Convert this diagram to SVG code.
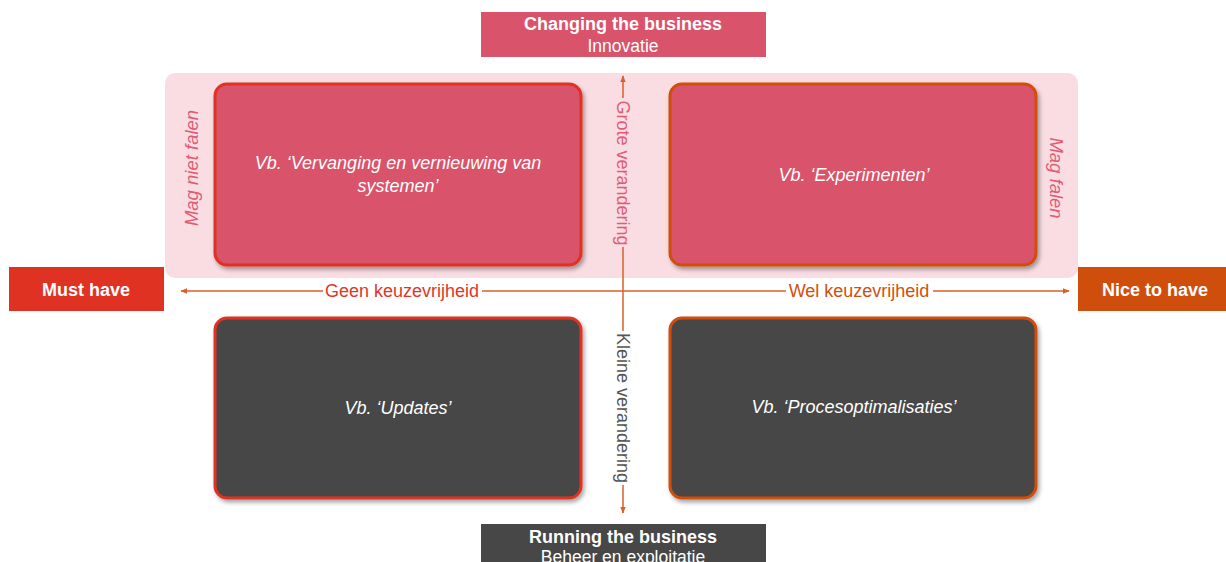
<svg xmlns="http://www.w3.org/2000/svg" width="1226" height="562" viewBox="0 0 1226 562">
<defs>
<style>
text{font-family:"Liberation Sans",Arial,sans-serif}
.hdr{font-size:18px;font-weight:bold;fill:#fff;text-anchor:middle}
.sub{font-size:17.5px;fill:#fff;text-anchor:middle}
.box{font-size:18px;font-style:italic;fill:#fff;text-anchor:middle}
.side{font-size:18.5px;font-style:italic;fill:#e05c76;text-anchor:middle}
.ax{font-size:18px;text-anchor:middle}
.axl{stroke:#d9602a;stroke-width:1.5;fill:none}
.red{fill:#d9536b;stroke:#e03222;stroke-width:3}
.redo{fill:#d9536b;stroke:#d04e0b;stroke-width:3}
.dark{fill:#474747;stroke:#e03222;stroke-width:3}
.darko{fill:#474747;stroke:#d04e0b;stroke-width:3}
</style>
<filter id="sh" x="-5%" y="-5%" width="115%" height="115%">
<feDropShadow dx="2" dy="3" stdDeviation="2" flood-color="#000" flood-opacity="0.35"/>
</filter>
<marker id="ah" viewBox="0 0 10 10" refX="9" refY="5" markerWidth="7" markerHeight="7" orient="auto-start-reverse" markerUnits="userSpaceOnUse">
<path d="M0,1 L10,5 L0,9 z" fill="#d9602a"/>
</marker>
</defs>
<rect x="165" y="73" width="913" height="205" rx="10" fill="#f9dde2"/>
<g id="top-label">
<rect x="481" y="12" width="285" height="45" fill="#d9536b"/>
<text class="hdr" x="623" y="30">Changing the business</text>
<text class="sub" x="623" y="52">Innovatie</text>
</g>
<g id="bottom-label">
<rect x="481" y="524" width="285" height="45" fill="#474747"/>
<text class="hdr" x="623" y="543">Running the business</text>
<text class="sub" x="623" y="563">Beheer en exploitatie</text>
</g>
<g id="must-have">
<rect x="9" y="267" width="155" height="44" fill="#e03222"/>
<text class="hdr" x="86" y="296">Must have</text>
</g>
<g id="nice-to-have">
<rect x="1078" y="267" width="148" height="44" fill="#d04e0b"/>
<text class="hdr" x="1155" y="296">Nice to have</text>
</g>
<g id="q-top-left">
<rect class="red" x="215" y="84" width="366" height="181" rx="12" filter="url(#sh)"/>
<text class="box" x="398" y="169">Vb. ‘Vervanging en vernieuwing van</text>
<text class="box" x="398" y="192">systemen’</text>
</g>
<g id="q-top-right">
<rect class="redo" x="670" y="84" width="366" height="181" rx="12" filter="url(#sh)"/>
<text class="box" x="854" y="181">Vb. ‘Experimenten’</text>
</g>
<g id="q-bottom-left">
<rect class="dark" x="215" y="318" width="366" height="180" rx="12" filter="url(#sh)"/>
<text class="box" x="398" y="414">Vb. ‘Updates’</text>
</g>
<g id="q-bottom-right">
<rect class="darko" x="670" y="318" width="366" height="180" rx="12" filter="url(#sh)"/>
<text class="box" x="854" y="413">Vb. ‘Procesoptimalisaties’</text>
</g>
<g id="side-labels">
<text class="side" transform="translate(198,168) rotate(-90)">Mag niet falen</text>
<text class="side" transform="translate(1050,178) rotate(90)">Mag falen</text>
</g>
<g id="connectors">
<line class="axl" x1="323" y1="291" x2="181" y2="291" marker-end="url(#ah)"/>
<line class="axl" x1="482" y1="291" x2="786" y2="291"/>
<line class="axl" x1="933" y1="291" x2="1069" y2="291" marker-end="url(#ah)"/>
<line class="axl" x1="623" y1="98" x2="623" y2="76" marker-end="url(#ah)"/>
<line class="axl" x1="623" y1="247" x2="623" y2="331"/>
<line class="axl" x1="623" y1="485" x2="623" y2="513" marker-end="url(#ah)"/>
<text class="ax" fill="#e0362a" x="402" y="297">Geen keuzevrijheid</text>
<text class="ax" fill="#d0500e" x="859" y="297">Wel keuzevrijheid</text>
<text class="ax" fill="#e05c76" transform="translate(617,173) rotate(90)">Grote verandering</text>
<text class="ax" fill="#555" transform="translate(617,408) rotate(90)">Kleine verandering</text>
</g>
</svg>
